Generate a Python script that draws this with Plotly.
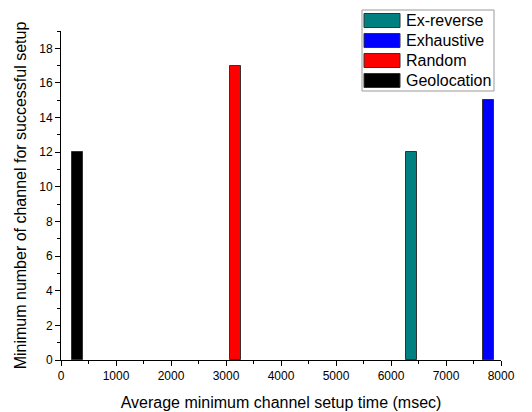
import plotly.graph_objects as go

series = ["Ex-reverse", "Exhaustive", "Random", "Geolocation"]
setup_time = [6380, 7770, 3180, 300]
min_channels = [12, 15, 17, 12]
colors = ["#008080", "#0000FF", "#FF0000", "#000000"]

x_ticks = [0, 1000, 2000, 3000, 4000, 5000, 6000, 7000, 8000]
y_ticks = [0, 2, 4, 6, 8, 10, 12, 14, 16, 18]

FONT = "Arial, 'Liberation Sans', sans-serif"

# page body has an 8px default margin, so the figure is sized/offset to compensate
OFF = 8
W, H = 532 - OFF, 412 - OFF
L, R, T, B = 61 - OFF, 31, 31 - OFF, 52
pw, ph = W - L - R, H - T - B

fig = go.Figure()
for name, xv, yv, c in zip(series, setup_time, min_channels, colors):
    fig.add_trace(go.Bar(
        x=[xv], y=[yv], name=name, width=200,
        marker=dict(color=c, line=dict(color="#333333", width=1)),
        showlegend=False,
    ))

def px_to_paper(x, y):
    # x, y in visible window pixels
    return (x - OFF - L) / pw, 1 - (y - OFF - T) / ph

# manual legend (wide swatches like the original)
lx0, lx1, ly0, ly1 = 362, 494, 10, 91
shapes = []
annotations = []
a0 = px_to_paper(lx0, ly0)
a1 = px_to_paper(lx1, ly1)
shapes.append(dict(type="rect", xref="paper", yref="paper", x0=a0[0], x1=a1[0], y0=a1[1], y1=a0[1],
                   line=dict(color="#999999", width=1), fillcolor="white", layer="above"))
for i, (name, c) in enumerate(zip(series, colors)):
    cy = 20.5 + 20 * i
    s0 = px_to_paper(364, cy - 7)
    s1 = px_to_paper(400, cy + 7)
    shapes.append(dict(type="rect", xref="paper", yref="paper", x0=s0[0], x1=s1[0], y0=s1[1], y1=s0[1],
                       line=dict(color="#333333", width=1), fillcolor=c, layer="above"))
    t = px_to_paper(404, cy)
    annotations.append(dict(xref="paper", yref="paper", x=t[0], y=t[1], text=name, showarrow=False,
                            xanchor="left", yanchor="middle", font=dict(family=FONT, size=16, color="black")))

fig.update_layout(
    width=W, height=H,
    margin=dict(l=L, r=R, t=T, b=B, autoexpand=False),
    paper_bgcolor="white", plot_bgcolor="white",
    font=dict(family=FONT, color="black"),
    shapes=shapes, annotations=annotations,
    bargap=0,
)
fig.update_xaxes(
    range=[0, 8000], tickvals=x_ticks, ticktext=[str(v) for v in x_ticks], automargin=False,
    showgrid=False, zeroline=False, showline=True, linecolor="black", linewidth=1,
    ticks="outside", ticklen=5, tickcolor="black", tickfont=dict(size=12),
    minor=dict(ticks="outside", ticklen=3, dtick=500, tickcolor="black", showgrid=False),
    title=dict(text="Average minimum channel setup time (msec)", font=dict(size=16), standoff=14),
)
fig.update_yaxes(
    range=[0, 19], tickvals=y_ticks, ticktext=[str(v) for v in y_ticks], automargin=False,
    showgrid=False, zeroline=False, showline=True, linecolor="black", linewidth=1,
    ticks="outside", ticklen=5, tickcolor="black", tickfont=dict(size=12),
    minor=dict(ticks="outside", ticklen=3, dtick=1, tickcolor="black", showgrid=False),
    title=dict(text="Minimum number of channel for successful setup", font=dict(size=16), standoff=8),
)

fig.write_html("out.html")
